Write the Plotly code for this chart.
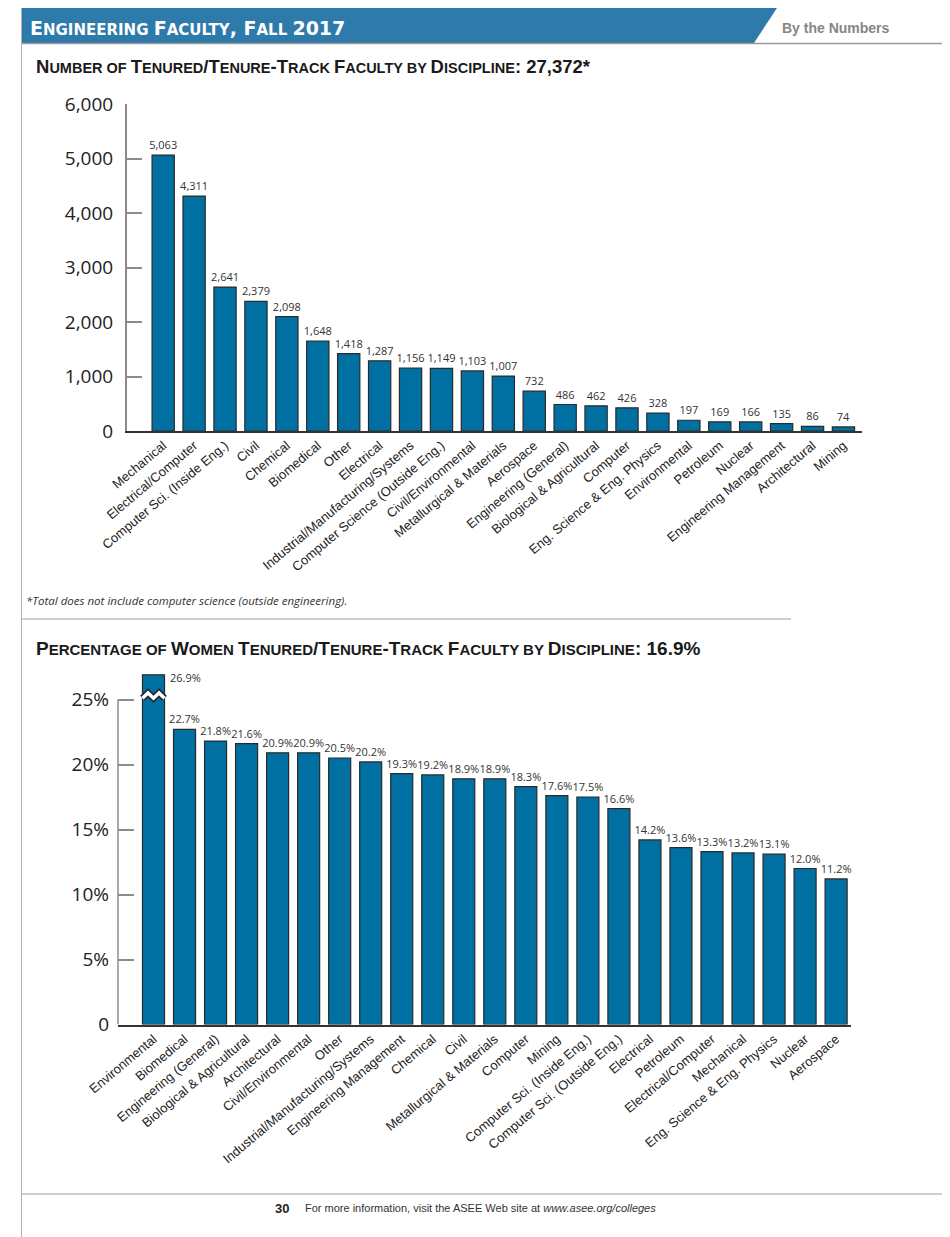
import plotly.graph_objects as go

# ---------------- data ----------------
count_categories = [
    "Mechanical", "Electrical/Computer", "Computer Sci. (Inside Eng.)", "Civil",
    "Chemical", "Biomedical", "Other", "Electrical",
    "Industrial/Manufacturing/Systems", "Computer Science (Outside Eng.)",
    "Civil/Environmental", "Metallurgical & Materials", "Aerospace",
    "Engineering (General)", "Biological & Agricultural", "Computer",
    "Eng. Science & Eng. Physics", "Environmental", "Petroleum", "Nuclear",
    "Engineering Management", "Architectural", "Mining",
]
count_values = [5063, 4311, 2641, 2379, 2098, 1648, 1418, 1287, 1156, 1149,
                1103, 1007, 732, 486, 462, 426, 328, 197, 169, 166, 135, 86, 74]
count_ticks = [0, 1000, 2000, 3000, 4000, 5000, 6000]
count_tick_labels = ["0", "1,000", "2,000", "3,000", "4,000", "5,000", "6,000"]

pct_categories = [
    "Environmental", "Biomedical", "Engineering (General)",
    "Biological & Agricultural", "Architectural", "Civil/Environmental", "Other",
    "Industrial/Manufacturing/Systems", "Engineering Management", "Chemical",
    "Civil", "Metallurgical & Materials", "Computer", "Mining",
    "Computer Sci. (Inside Eng.)", "Computer Sci. (Outside Eng.)", "Electrical",
    "Petroleum", "Electrical/Computer", "Mechanical",
    "Eng. Science & Eng. Physics", "Nuclear", "Aerospace",
]
pct_values = [26.9, 22.7, 21.8, 21.6, 20.9, 20.9, 20.5, 20.2, 19.3, 19.2, 18.9,
              18.9, 18.3, 17.6, 17.5, 16.6, 14.2, 13.6, 13.3, 13.2, 13.1, 12.0, 11.2]
pct_ticks = [0, 5, 10, 15, 20, 25]
pct_tick_labels = ["0", "5%", "10%", "15%", "20%", "25%"]

# ---------------- styling ----------------
OFF = 8                      # page body margin of the browser
W, H = 950 - OFF, 1237 - OFF
BAR = "#006fa2"
BAR_EDGE = "#2a2a2a"
GREY = "#8c8c8c"
HEADER_BLUE = "#2e7aab"
NUM_FONT = "Open Sans, Lato, sans-serif"
LBL_FONT = "Liberation Sans, Arial, sans-serif"


def px(x):
    return (x - OFF) / W


def py(y):
    return 1 - (y - OFF) / H


def smallcaps(text, small):
    out, run, run_small = [], "", None
    for ch in text:
        is_small = ch.islower()
        c = ch.upper()
        if run_small is None or is_small == run_small or ch == " ":
            run += c
            if run_small is None and ch != " ":
                run_small = is_small
        else:
            out.append((run, run_small))
            run, run_small = c, is_small
    out.append((run, run_small))
    html = ""
    for s, sm in out:
        html += f'<span style="font-size:{small}px">{s}</span>' if sm else s
    return html


fig = go.Figure()

fig.add_trace(go.Bar(
    x=count_categories, y=count_values, xaxis="x", yaxis="y", width=0.72,
    text=[f"{v:,}" for v in count_values], textposition="outside",
    cliponaxis=False, constraintext="none",
    textfont=dict(family=NUM_FONT, size=11, color="#333"),
    marker=dict(color=BAR, line=dict(color=BAR_EDGE, width=1.2)),
    showlegend=False, hoverinfo="x+y",
))

pct_text = [f"{v:.1f}%" for v in pct_values]
fig.add_trace(go.Bar(
    x=pct_categories, y=pct_values, xaxis="x2", yaxis="y2", width=0.71,
    text=[""] + pct_text[1:], textposition="outside",
    cliponaxis=False, constraintext="none",
    textfont=dict(family=NUM_FONT, size=11, color="#333"),
    marker=dict(color=BAR, line=dict(color=BAR_EDGE, width=1.2)),
    showlegend=False, hoverinfo="x+y",
))

axis_common = dict(showgrid=False, zeroline=False, automargin=False)

fig.update_layout(
    width=W, height=H, margin=dict(l=0, r=0, t=0, b=0, autoexpand=False),
    paper_bgcolor="white", plot_bgcolor="white", showlegend=False,
    xaxis=dict(
        domain=[px(126.7), px(862)], range=[-1.18, 22.6], type="category",
        anchor="y", showline=True, linecolor="#333", linewidth=2, ticks="",
        tickangle=-40, tickfont=dict(family=LBL_FONT, size=13, color="#222"),
        **axis_common,
    ),
    yaxis=dict(
        domain=[py(431), py(104)], range=[0, 6000], anchor="x",
        showline=True, linecolor=GREY, linewidth=1.5,
        ticks="inside", ticklen=16, tickwidth=1.5, tickcolor=GREY,
        tickvals=count_ticks, ticktext=count_tick_labels, ticklabelstandoff=8,
        tickfont=dict(family=NUM_FONT, size=19, color="#222"),
        **axis_common,
    ),
    xaxis2=dict(
        domain=[px(118), px(851)], range=[-1.144, 22.48], type="category",
        anchor="y2", showline=True, linecolor="#333", linewidth=2, ticks="",
        tickangle=-40, tickfont=dict(family=LBL_FONT, size=13, color="#222"),
        **axis_common,
    ),
    yaxis2=dict(
        domain=[py(1024.5), py(667)], range=[0, 27.5], anchor="x2",
        showline=False,
        ticks="inside", ticklen=16, tickwidth=1.5, tickcolor=GREY,
        tickvals=pct_ticks, ticktext=pct_tick_labels, ticklabelstandoff=8,
        tickfont=dict(family=NUM_FONT, size=19, color="#222"),
        **axis_common,
    ),
)

shapes = []
# left page rule
shapes.append(dict(type="line", xref="paper", yref="paper", x0=px(21.5), x1=px(21.5),
                   y0=0, y1=1, line=dict(color="#b0b0b0", width=1)))
# header band
shapes.append(dict(type="path", xref="paper", yref="paper",
                   path=f"M {px(22)},{py(8)} L {px(777)},{py(8)} L {px(754)},{py(43)} L {px(22)},{py(43)} Z",
                   fillcolor=HEADER_BLUE, line=dict(width=0)))
shapes.append(dict(type="line", xref="paper", yref="paper", x0=px(22), x1=px(948),
                   y0=py(43.5), y1=py(43.5), line=dict(color="#9a9a9a", width=1.5)))
# section separator and footer rule
shapes.append(dict(type="line", xref="paper", yref="paper", x0=px(22), x1=px(791),
                   y0=py(619), y1=py(619), line=dict(color="#a0a0a0", width=1.2)))
shapes.append(dict(type="line", xref="paper", yref="paper", x0=px(22), x1=1,
                   y0=py(1194), y1=py(1194), line=dict(color="#a0a0a0", width=1.2)))
# y axis line of second chart (only up to the top tick)
shapes.append(dict(type="line", xref="x2 domain", yref="y2", x0=0, x1=0,
                   y0=pct_ticks[0], y1=pct_ticks[-1], line=dict(color=GREY, width=1.5)))
# axis-break zigzag on the first (tallest) bar of the second chart
half = 0.71 / 2
brk = pct_ticks[-1] + 0.1
amp = 0.4
zig = [(-half, brk), (-half / 2, brk + amp), (0, brk), (half / 2, brk + amp), (half, brk)]
zpath = "M " + " L ".join(f"{x},{y}" for x, y in zig)
shapes.append(dict(type="path", xref="x2", yref="y2", path=zpath,
                   line=dict(color="#1e2a33", width=7)))
shapes.append(dict(type="path", xref="x2", yref="y2", path=zpath,
                   line=dict(color="white", width=3.5)))
fig.update_layout(shapes=shapes)

ann = []
ann.append(dict(xref="paper", yref="paper", x=px(28), y=py(27.5), xanchor="left", yanchor="middle",
                text="<b>" + smallcaps("Engineering Faculty, Fall 2017", 15) + "</b>",
                showarrow=False, font=dict(family="DejaVu Sans", size=19, color="white")))
ann.append(dict(xref="paper", yref="paper", x=px(780), y=py(28), xanchor="left", yanchor="middle",
                text="<b>By the Numbers</b>", showarrow=False,
                font=dict(family=LBL_FONT, size=14, color="#858585")))
ann.append(dict(xref="paper", yref="paper", x=px(34), y=py(67), xanchor="left", yanchor="middle",
                text="<b>" + smallcaps("Number of Tenured/Tenure-Track Faculty by Discipline: 27,372*", 14.5) + "</b>",
                showarrow=False, font=dict(family=LBL_FONT, size=18.5, color="#1a1a1a")))
ann.append(dict(xref="paper", yref="paper", x=px(34), y=py(648), xanchor="left", yanchor="middle",
                text="<b>" + smallcaps("Percentage of Women Tenured/Tenure-Track Faculty by Discipline: 16.9%", 15) + "</b>",
                showarrow=False, font=dict(family=LBL_FONT, size=19, color="#1a1a1a")))
ann.append(dict(xref="paper", yref="paper", x=px(24), y=py(600), xanchor="left", yanchor="middle",
                text="<i>*Total does not include computer science (outside engineering).</i>",
                showarrow=False, font=dict(family=NUM_FONT, size=11.5, color="#333")))
# label of the broken bar, placed beside it
ann.append(dict(xref="x2", yref="y2", x=pct_categories[0], y=pct_values[0], xanchor="left",
                yanchor="middle", xshift=14, yshift=-3, text=pct_text[0], showarrow=False,
                font=dict(family=NUM_FONT, size=11, color="#333")))
ann.append(dict(xref="paper", yref="paper", x=px(273), y=py(1208), xanchor="left", yanchor="middle",
                text="<b>30</b>", showarrow=False, font=dict(family=LBL_FONT, size=13, color="#222")))
ann.append(dict(xref="paper", yref="paper", x=px(303), y=py(1208), xanchor="left", yanchor="middle",
                text="For more information, visit the ASEE Web site at <i>www.asee.org/colleges</i>",
                showarrow=False, font=dict(family=LBL_FONT, size=11, color="#333")))
fig.update_layout(annotations=ann)

fig.write_html("out.html")
